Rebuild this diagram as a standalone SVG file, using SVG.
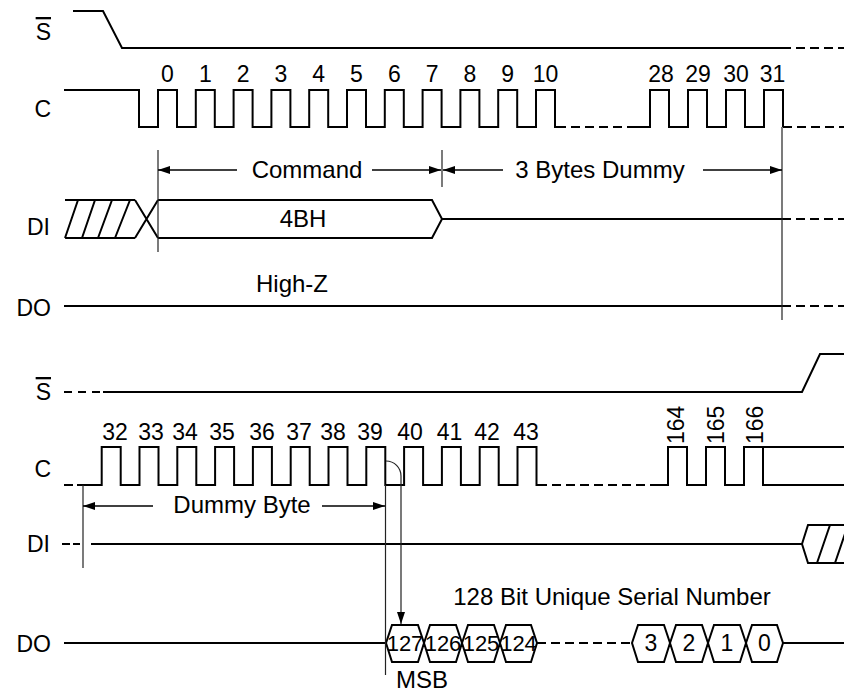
<svg xmlns="http://www.w3.org/2000/svg" width="844" height="693" viewBox="0 0 844 693">
<defs>
<style>
.sig{fill:none;stroke:#000;stroke-width:2;stroke-linejoin:miter}
.dash{fill:none;stroke:#000;stroke-width:2;stroke-dasharray:9 5}
.mk{fill:none;stroke:#222;stroke-width:1.2}
.ar{fill:none;stroke:#000;stroke-width:1.6}
text{font-family:"Liberation Sans",Arial,sans-serif;font-size:24px;fill:#000}
.lbl{text-anchor:end;font-size:23px}
.mid{text-anchor:middle}
.num{text-anchor:middle;font-size:23px}
.rot{font-size:23px}
.ov{text-decoration:overline}
.hx{font-size:22px;text-anchor:middle}
.hd{font-size:23px;text-anchor:middle}
</style>
<marker id="ah" markerUnits="userSpaceOnUse" markerWidth="13" markerHeight="10" refX="12" refY="5" orient="auto">
<path d="M0,1 L12,5 L0,9 Z" fill="#000"/>
</marker>
</defs>
<rect width="844" height="693" fill="#fff"/>

<g id="labels">
<text class="lbl ov" x="51" y="40">S</text>
<text class="lbl" x="51" y="117">C</text>
<text class="lbl" x="50" y="235">DI</text>
<text class="lbl" x="51" y="316">DO</text>
<text class="lbl ov" x="51" y="400">S</text>
<text class="lbl" x="51" y="477">C</text>
<text class="lbl" x="50" y="552">DI</text>
<text class="lbl" x="51" y="652">DO</text>
</g>

<g id="top-S">
<path class="sig" d="M73,11 H103 L122,48 H782"/>
<path class="dash" d="M782,48 H844"/>
</g>

<g id="top-C">
<path class="sig" d="M64,90 H139 V127 H158 V90 H177 V127 H195.8 V90 H214.8 V127 H233.6 V90 H252.6 V127 H271.4 V90 H290.4 V127 H309.2 V90 H328.2 V127 H347 V90 H366 V127 H384.8 V90 H403.8 V127 H422.6 V90 H441.6 V127 H460.4 V90 H479.4 V127 H498.2 V90 H517.2 V127 H536 V90 H555 V127 H557"/>
<path class="dash" d="M557,127 H632"/>
<path class="sig" d="M632,127 H650 V90 H669 V127 H688 V90 H707 V127 H726 V90 H745 V127 H764 V90 H783 V127"/>
<path class="dash" d="M783,127 H844"/>
<g>
<text class="num" x="167.5" y="82">0</text>
<text class="num" x="205.3" y="82">1</text>
<text class="num" x="243.1" y="82">2</text>
<text class="num" x="280.9" y="82">3</text>
<text class="num" x="318.7" y="82">4</text>
<text class="num" x="356.5" y="82">5</text>
<text class="num" x="394.3" y="82">6</text>
<text class="num" x="432.1" y="82">7</text>
<text class="num" x="469.9" y="82">8</text>
<text class="num" x="507.7" y="82">9</text>
<text class="num" x="545.5" y="82">10</text>
<text class="num" x="661" y="82">28</text>
<text class="num" x="698" y="82">29</text>
<text class="num" x="736" y="82">30</text>
<text class="num" x="772.5" y="82">31</text>
</g>
</g>

<g id="top-DI">
<path class="sig" d="M65,200 H135 M65,238 H135 M65,238 L78,200 M82,238 L95,200 M98,238 L112,200 M115,238 L130,200 M135,200 L158,238 M135,238 L158,200"/>
<path class="sig" d="M158,200 H432 L442,219 L432,238 H158"/>
<path class="sig" d="M442,219 H782"/>
<path class="dash" d="M782,219 H844"/>
<text class="mid" x="303" y="227">4BH</text>
</g>

<g id="top-DO">
<path class="sig" d="M64,306 H782"/>
<path class="dash" d="M782,306 H844"/>
<text class="mid" x="292" y="292">High-Z</text>
</g>

<g id="bottom-S">
<path class="sig" d="M64,392 H72 M78,392 H86 M92,392 H100"/>
<path class="sig" d="M103,392 H802 L820,354 H844"/>
</g>

<g id="bottom-C">
<path class="sig" d="M64,485 H73 M77,485 H83"/>
<path class="sig" d="M83,485 H101.7 V447 H120.7 V485 H139.5 V447 H158.5 V485 H177.3 V447 H196.3 V485 H215.1 V447 H234.1 V485 H252.9 V447 H271.9 V485 H290.7 V447 H309.7 V485 H328.5 V447 H347.5 V485 H366.3 V447 H385.3 V485 H404.1 V447 H423.1 V485 H441.9 V447 H460.9 V485 H479.7 V447 H498.7 V485 H517.5 V447 H536.5 V485 H538"/>
<path class="dash" d="M538,485 H653"/>
<path class="sig" d="M653,485 H668 V447 H687 V485 H706 V447 H725 V485 H744 V447 H844 M763,447 V485 H844"/>
<g>
<text class="num" x="115" y="440">32</text>
<text class="num" x="151" y="440">33</text>
<text class="num" x="185" y="440">34</text>
<text class="num" x="222" y="440">35</text>
<text class="num" x="262" y="440">36</text>
<text class="num" x="299" y="440">37</text>
<text class="num" x="333" y="440">38</text>
<text class="num" x="370" y="440">39</text>
<text class="num" x="410" y="440">40</text>
<text class="num" x="449.5" y="440">41</text>
<text class="num" x="487" y="440">42</text>
<text class="num" x="526" y="440">43</text>
</g>
<text class="rot" transform="translate(684,444) rotate(-90)">164</text>
<text class="rot" transform="translate(724,444) rotate(-90)">165</text>
<text class="rot" transform="translate(763,444) rotate(-90)">166</text>
</g>

<g id="bottom-DI">
<path class="sig" d="M62,544 H70 M73,544 H80"/>
<path class="sig" d="M91,544 H802 L808,525 H844 M802,544 L808,563 H844 M817,563 L830,525 M835,563 L848,525"/>
</g>

<g id="bottom-DO">
<path class="sig" d="M64,643 H386"/>
<path class="sig" d="M386,643 L392,625 H418 L424,643 L418,662 H392 Z M424,643 L430,625 H456 L462,643 L456,662 H430 Z M462,643 L468,625 H494 L500,643 L494,662 H468 Z M500,643 L506,625 H531 L537,643 L531,662 H506 Z"/>
<path class="dash" d="M537,643 H632"/>
<path class="sig" d="M632,643 L638,625 H664 L670,643 L664,662 H638 Z M670,643 L676,625 H702 L708,643 L702,662 H676 Z M708,643 L714,625 H740 L746,643 L740,662 H714 Z M746,643 L752,625 H777 L783,643 L777,662 H752 Z"/>
<path class="sig" d="M783,643 H844"/>
<text class="hx" x="405" y="651">127</text>
<text class="hx" x="443" y="651">126</text>
<text class="hx" x="481" y="651">125</text>
<text class="hx" x="518.5" y="651">124</text>
<text class="hd" x="651" y="651">3</text>
<text class="hd" x="689" y="651">2</text>
<text class="hd" x="727" y="651">1</text>
<text class="hd" x="764.5" y="651">0</text>
<text class="mid" x="612" y="605">128 Bit Unique Serial Number</text>
<text class="mid" x="422" y="688">MSB</text>
</g>

<g id="connectors">
<path class="mk" d="M158,150 V252"/>
<path class="mk" d="M442,150 V187"/>
<path class="mk" d="M782,127 V320"/>
<path class="mk" d="M83,485 V568"/>
<path class="mk" d="M385.5,485 V675"/>
<path class="ar" d="M237,170 H158" marker-end="url(#ah)"/>
<path class="ar" d="M372,170 H441" marker-end="url(#ah)"/>
<path class="ar" d="M503,170 H443" marker-end="url(#ah)"/>
<path class="ar" d="M703,170 H782" marker-end="url(#ah)"/>
<path class="ar" d="M153,506 H83" marker-end="url(#ah)"/>
<path class="ar" d="M322,506 H385" marker-end="url(#ah)"/>
<path class="mk" d="M386,461 A15,15 0 0 1 401,476 V624" marker-end="url(#ah)"/>
<text class="mid" x="307" y="178">Command</text>
<text class="mid" x="600" y="178">3 Bytes Dummy</text>
<text class="mid" x="242" y="513">Dummy Byte</text>
</g>
</svg>
